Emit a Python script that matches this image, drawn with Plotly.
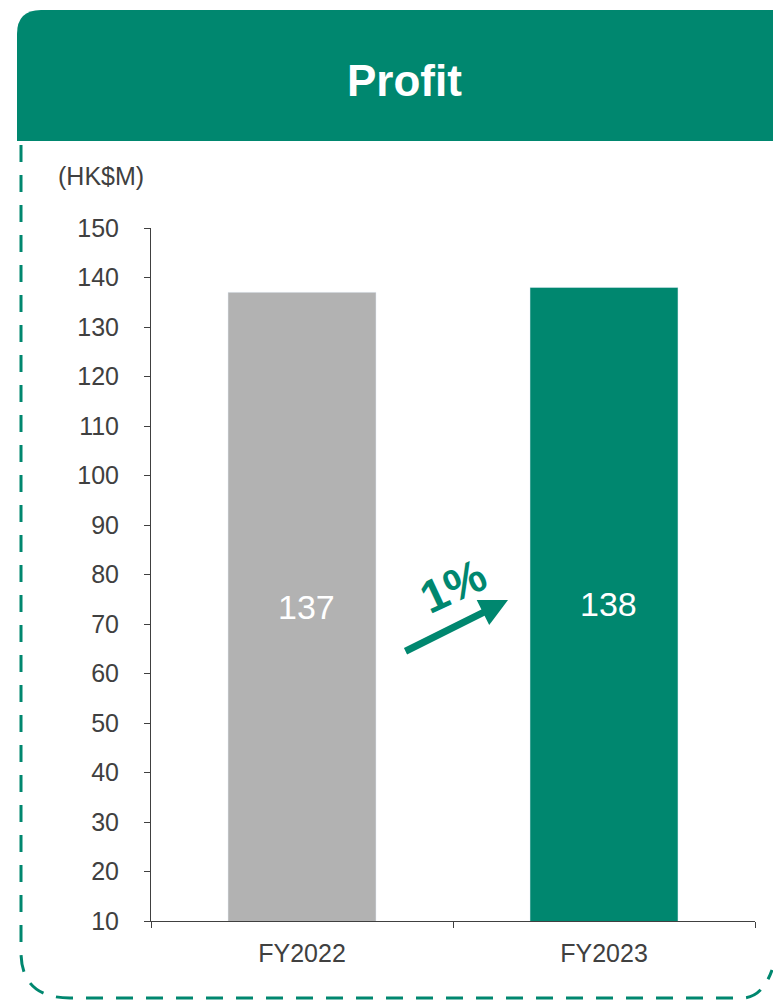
import plotly.graph_objects as go

categories = ["FY2022", "FY2023"]
profit = [137, 138]
bar_colors = ["#B2B2B2", "#00876F"]
y_min, y_max, y_step = 10, 150, 10
growth_label = "1%"
unit_label = "(HK$M)"
title_text = "Profit"

W, H = 773, 1000
L, R, T, B = 151, 18, 228, 79
PW, PH = W - L - R, H - T - B


def px(x):
    return (x - L) / PW


def py(y):
    return (H - B - y) / PH


GREEN = "#00876F"
TXT = "#404040"
FONT = "Liberation Sans, Arial, sans-serif"

fig = go.Figure()
fig.add_trace(go.Bar(
    x=categories, y=profit, marker_color=bar_colors, width=0.49,
    hoverinfo="skip", showlegend=False,
))

annotations = []
for c, v in zip(categories, profit):
    annotations.append(dict(
        x=c, y=(v + y_min) / 2, xref="x", yref="y", text=str(v),
        xanchor="center", yanchor="middle", xshift=4,
        showarrow=False, font=dict(family=FONT, size=34, color="white"),
    ))

# growth arrow
annotations.append(dict(
    x=px(508), y=py(600), xref="paper", yref="paper", ax=-104, ay=52,
    axref="pixel", ayref="pixel", text="", showarrow=True,
    arrowhead=2, arrowsize=0.8, arrowwidth=7, arrowcolor=GREEN, standoff=0,
))
annotations.append(dict(
    x=px(453), y=py(586), xref="paper", yref="paper", text="<b>%s</b>" % growth_label,
    xanchor="center", yanchor="middle",
    showarrow=False, textangle=-25, font=dict(family=FONT, size=46, color=GREEN),
))
annotations.append(dict(
    x=px(56), y=py(176), xref="paper", yref="paper", text=unit_label,
    xanchor="left", yanchor="middle", showarrow=False,
    font=dict(family=FONT, size=25, color=TXT),
))
annotations.append(dict(
    x=px(404), y=py(80), xref="paper", yref="paper", text="<b>%s</b>" % title_text,
    xanchor="center", yanchor="middle",
    showarrow=False, font=dict(family=FONT, size=44, color="white"),
))

# header box with rounded top-left corner
r = 24
hx0, hy0, hx1, hy1 = 17, 10, 790, 141
header_path = (
    f"M {px(hx0)},{py(hy1)} L {px(hx0)},{py(hy0 + r)} "
    f"Q {px(hx0)},{py(hy0)} {px(hx0 + r)},{py(hy0)} "
    f"L {px(hx1)},{py(hy0)} L {px(hx1)},{py(hy1)} Z"
)
# dashed frame
border_path = (
    f"M {px(21)},{py(145)} L {px(21)},{py(952)} "
    f"Q {px(21)},{py(998)} {px(70)},{py(998)} "
    f"L {px(742)},{py(998)} "
    f"Q {px(762)},{py(998)} {px(772)},{py(970)}"
)
shapes = [
    dict(type="path", path=header_path, xref="paper", yref="paper",
         fillcolor=GREEN, line=dict(width=0), layer="below"),
    dict(type="path", path=border_path, xref="paper", yref="paper",
         line=dict(color=GREEN, width=3, dash="17px,13px"), layer="below"),
]

fig.update_layout(
    width=W, height=H,
    margin=dict(l=L, r=R, t=T, b=B, autoexpand=False),
    paper_bgcolor="white", plot_bgcolor="white",
    annotations=annotations, shapes=shapes,
    font=dict(family=FONT, color=TXT),
    bargap=0.51,
)
fig.update_xaxes(
    showline=True, linecolor=TXT, linewidth=1, ticks="outside", ticklen=6,
    tickcolor=TXT, tickson="boundaries", tickfont=dict(size=25, color=TXT),
    showgrid=False, fixedrange=True, ticklabelstandoff=10,
)
fig.update_yaxes(
    range=[y_min, y_max], dtick=y_step, tick0=y_min, showline=True, linecolor=TXT,
    linewidth=1, ticks="outside", ticklen=6, tickcolor=TXT,
    tickfont=dict(size=25, color=TXT), showgrid=False, zeroline=False,
    fixedrange=True, ticklabelstandoff=20,
)

fig.write_html(
    "out.html",
    config={"displayModeBar": False},
    post_script="document.body.style.margin='0';document.body.style.overflow='hidden';",
)
